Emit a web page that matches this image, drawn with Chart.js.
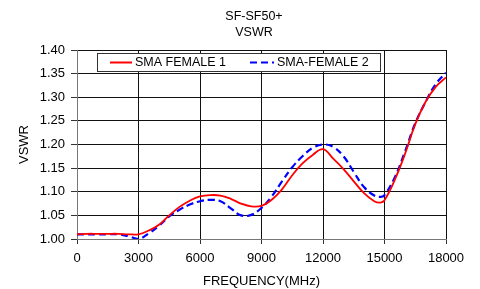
<!DOCTYPE html>
<html>
<head>
<meta charset="utf-8">
<script src="https://cdn.jsdelivr.net/npm/chart.js@4.4.0/dist/chart.umd.min.js"></script>
<style>
html,body{margin:0;padding:0;background:#fff;}
#wrap{width:480px;height:289px;position:relative;}
</style>
</head>
<body>
<div id="wrap"><canvas id="c" width="480" height="289"></canvas></div>
<script>
const titleLines = ['SF-SF50+', 'VSWR'];
const xTitle = 'FREQUENCY(MHz)';
const yTitle = 'VSWR';
const seriesNames = ['SMA FEMALE 1', 'SMA-FEMALE 2'];
const freqs = [0,500,1000,1500,2000,2500,3000,3500,4000,4500,5000,5500,6000,6500,7000,7500,8000,8500,9000,9500,10000,10500,11000,11500,12000,12500,13000,13500,14000,14500,14800,15000,15500,16000,16500,17000,17500,18000];
const female1 = [1.010,1.011,1.011,1.011,1.011,1.010,1.010,1.018,1.030,1.050,1.068,1.081,1.090,1.093,1.092,1.085,1.075,1.069,1.070,1.083,1.105,1.135,1.160,1.178,1.190,1.170,1.148,1.122,1.097,1.080,1.077,1.082,1.125,1.180,1.243,1.290,1.322,1.342];
const female2 = [1.010,1.010,1.010,1.010,1.010,1.006,1.000,1.012,1.028,1.048,1.062,1.073,1.080,1.083,1.080,1.065,1.050,1.051,1.066,1.090,1.122,1.152,1.175,1.193,1.200,1.195,1.175,1.142,1.110,1.092,1.089,1.093,1.130,1.185,1.245,1.290,1.328,1.352];
const yTicksMin = 1.0, yTicksMax = 1.4, yStep = 0.05;
const xMin = 0, xMax = 18000, xStep = 3000;

const toXY = (arr) => freqs.map((f, i) => ({x: f, y: arr[i]}));
const FONT = '"Liberation Sans", Arial, sans-serif';

const titleAndLegend = {
  id: 'titleAndLegend',
  afterDraw(chart) {
    const ctx = chart.ctx;
    ctx.save();
    // title
    ctx.fillStyle = '#000';
    ctx.font = '12.5px ' + FONT;
    ctx.textAlign = 'center';
    ctx.textBaseline = 'middle';
    ctx.fillText(titleLines[0], 254, 17);
    ctx.fillText(titleLines[1], 254, 33);
    // legend box
    const x0 = 97, y0 = 53, w = 283, h = 18;
    ctx.fillStyle = '#fff';
    ctx.fillRect(x0, y0, w, h);
    ctx.strokeStyle = '#333';
    ctx.lineWidth = 1;
    ctx.strokeRect(x0 + 0.5, y0 + 0.5, w, h);
    const cy = y0 + h / 2 + 0.5;
    const items = [
      {sx: 110, ex: 132, tx: 135, ds: chart.data.datasets[0]},
      {sx: 250, ex: 274, tx: 277, ds: chart.data.datasets[1]}
    ];
    items.forEach(it => {
      ctx.beginPath();
      ctx.strokeStyle = it.ds.borderColor;
      ctx.lineWidth = 2;
      ctx.setLineDash(it.ds.borderDash || []);
      ctx.moveTo(it.sx, cy);
      ctx.lineTo(it.ex, cy);
      ctx.stroke();
      ctx.setLineDash([]);
      ctx.fillStyle = '#000';
      ctx.font = '12.5px ' + FONT;
      ctx.textBaseline = 'middle';
      ctx.textAlign = 'left';
      ctx.fillText(it.ds.label, it.tx, cy + 0.5);
    });
    ctx.restore();
  }
};

new Chart(document.getElementById('c'), {
  type: 'line',
  data: {
    datasets: [
      {label: seriesNames[0], data: toXY(female1), borderColor: '#ff0000', borderWidth: 1.8, pointRadius: 0, tension: 0.4, fill: false},
      {label: seriesNames[1], data: toXY(female2), borderColor: '#0000ff', borderWidth: 2.2, borderDash: [7, 4], pointRadius: 0, tension: 0.4, fill: false}
    ]
  },
  options: {
    responsive: false,
    animation: false,
    devicePixelRatio: 1,
    layout: {padding: {left: 0, right: 34, top: 50, bottom: 0}},
    plugins: {
      legend: {display: false},
      tooltip: {enabled: false},
      title: {display: false}
    },
    scales: {
      x: {
        type: 'linear',
        min: xMin, max: xMax,
        ticks: {stepSize: xStep, color: '#000', font: {family: FONT, size: 13}, padding: 7, maxRotation: 0, callback: v => String(v)},
        grid: {color: '#111', lineWidth: 1, tickLength: 5, tickColor: '#333'},
        border: {color: '#777', width: 1},
        title: {display: true, text: xTitle, color: '#000', font: {family: FONT, size: 13}, padding: {top: 3, bottom: 0}},
        afterFit(s) { s.height = 50; }
      },
      y: {
        min: yTicksMin, max: yTicksMax,
        ticks: {stepSize: yStep, color: '#000', font: {family: FONT, size: 13}, padding: 6, callback: v => Number(v).toFixed(2)},
        grid: {color: '#111', lineWidth: 1, tickLength: 6, tickColor: '#333'},
        border: {color: '#777', width: 1},
        title: {display: true, text: yTitle, color: '#000', font: {family: FONT, size: 13}, padding: {top: 17, bottom: 0}},
        afterFit(s) { s.width = 77; }
      }
    }
  },
  plugins: [titleAndLegend]
});
</script>
</body>
</html>
